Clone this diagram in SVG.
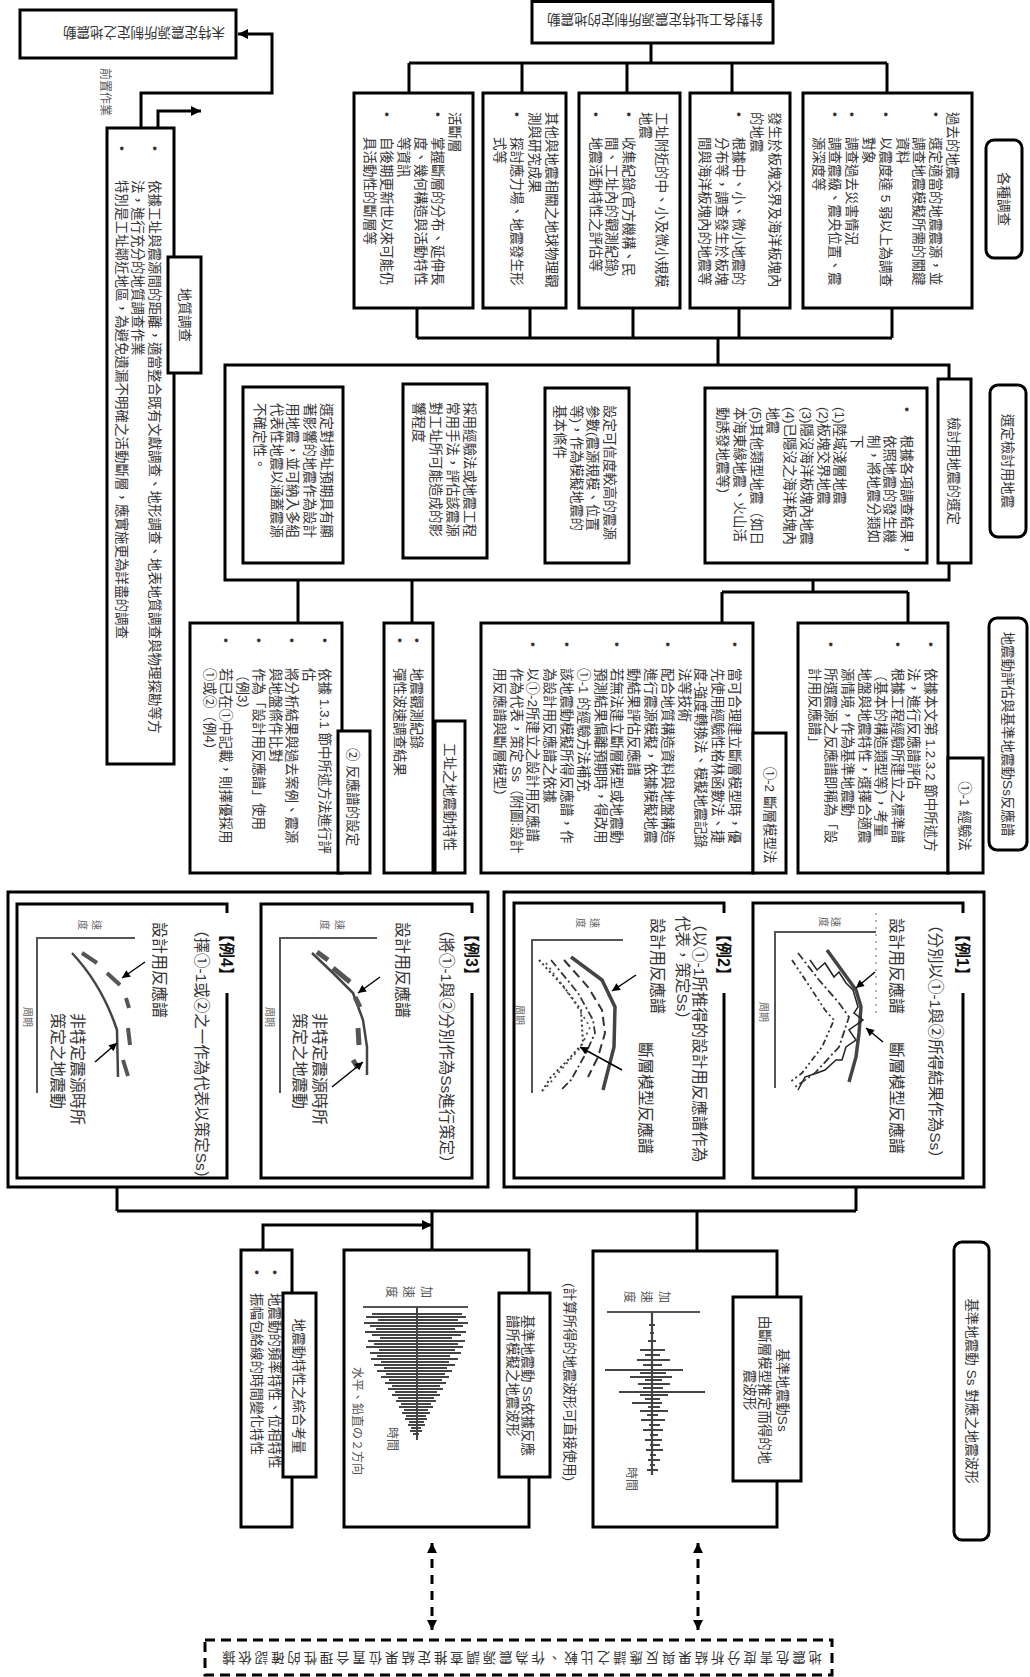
<svg xmlns="http://www.w3.org/2000/svg" width="1030" height="1677" viewBox="0 0 1030 1677">
<style>
.b{fill:#fff;stroke:#000;stroke-width:3}
.r{fill:#fff;stroke:#000;stroke-width:3}
.c{fill:none;stroke:#000;stroke-width:3}
.t{font-family:"Liberation Sans","Noto Sans CJK TC",sans-serif;font-size:13.5px;fill:#333}
.g{font-size:16px}
.h{font-size:15.5px}
.s{font-size:10px;fill:#666}
.w{font-size:12px;fill:#555}
.k{font-weight:bold;font-size:16px;fill:#111}
.cv{fill:none;stroke:#444;stroke-width:2.5}
.ax{fill:none;stroke:#555;stroke-width:2}
.ar{fill:none;stroke:#000;stroke-width:1.5}
</style>
<defs>
<marker id="a" viewBox="0 0 10 10" refX="10" refY="5" markerWidth="12" markerHeight="10" markerUnits="userSpaceOnUse" orient="auto-start-reverse"><path d="M0,0L10,5L0,10z" fill="#000"/></marker>
<marker id="A" viewBox="0 0 10 10" refX="10" refY="5" markerWidth="21" markerHeight="17" markerUnits="userSpaceOnUse" orient="auto"><path d="M0,0L10,5L0,10z" fill="#000"/></marker>
<marker id="m" viewBox="0 0 10 10" refX="10" refY="5" markerWidth="10" markerHeight="8" markerUnits="userSpaceOnUse" orient="auto"><path d="M0,0L10,5L0,10z" fill="#000"/></marker>
</defs>

<g id="connectors">
<path class="c" d="M651,43V63M409,63H887M409,63V93M522,63V93M627,63V93M732,63V93M887,63V93"/>
<path class="c" d="M417,308V338M530,308V338M633,308V338M739,308V338M892,308V338M417,338H892M718,338V365"/>
<path class="c" d="M298,580V623M412,580V623M813,580V592M722,592H908M722,592V623M908,592V623"/>
<path class="c" d="M117,1187V1211M856,1187V1211M117,1211H856M432,1211V1250M697,1211V1251"/>
<path class="c" d="M141,128V93H272V34H238" marker-end="url(#a)"/>
<path class="c" d="M158,128V111H201" marker-end="url(#a)"/>
<path class="c" d="M263,1250V1225H432" marker-end="url(#a)"/>
<path fill="none" stroke="#000" stroke-width="4" d="M688,470H642" marker-end="url(#A)"/>
<path fill="none" stroke="#000" stroke-width="4" d="M537,470H490" marker-end="url(#A)"/>
<path fill="none" stroke="#000" stroke-width="4" d="M392,470H345" marker-end="url(#A)"/>
<path fill="none" stroke="#000" stroke-width="3" stroke-dasharray="9,7" d="M432,1543V1630" marker-start="url(#a)" marker-end="url(#a)"/>
<path fill="none" stroke="#000" stroke-width="3" stroke-dasharray="9,7" d="M698,1543V1630" marker-start="url(#a)" marker-end="url(#a)"/>
</g>

<g id="top">
<rect class="b" x="532" y="1.5" width="241" height="41.5"/>
<text class="t" transform="translate(763,15) rotate(180)">針對各工址特定震源所制定的地震動</text>
</g>
<g id="unspecified">
<rect class="b" x="20" y="10" width="216" height="48"/>
<text class="t" transform="translate(225,28) rotate(180)">未特定震源所制定之地震動</text>
</g>
<g id="pre"><text class="t w" transform="translate(100.5,68) rotate(90)">前置作業</text></g>

<g id="geo">
<rect class="b" x="107" y="128" width="67" height="636"/>
<text class="t" transform="translate(150,146) rotate(90)"><tspan x="0" y="0">•</tspan><tspan x="34" y="0">依據工址與震源間的距離，適當整合既有文獻調查、地形調查、地表地質調查與物理探勘等方</tspan><tspan x="34" y="17">法，進行充分的地質調查作業</tspan><tspan x="0" y="33">•</tspan><tspan x="34" y="33">特別是工址鄰近地區，為避免遺漏不明確之活動斷層，應實施更為詳盡的調查</tspan></text>
<rect class="b" x="168" y="257" width="33" height="116"/>
<text class="t" text-anchor="middle" transform="translate(180,315) rotate(90)">地質調查</text>
</g>

<g id="fault">
<rect class="b" x="354" y="93" width="119" height="215"/>
<text class="t" transform="translate(450,112) rotate(90)"><tspan x="0" y="0">活斷層</tspan><tspan x="0" y="17">•</tspan><tspan x="25" y="17">掌握斷層的分布、延伸長</tspan><tspan x="25" y="34">度、幾何構造與活動特性</tspan><tspan x="25" y="51">等資訊</tspan><tspan x="0" y="68">•</tspan><tspan x="25" y="68">自後期更新世以來可能仍</tspan><tspan x="25" y="85">具活動性的斷層等</tspan></text>
</g>
<g id="geophys">
<rect class="b" x="483" y="93" width="83" height="215"/>
<text class="t" transform="translate(547,112) rotate(90)"><tspan x="0" y="0">其他與地震相關之地球物理觀</tspan><tspan x="0" y="17">測與研究成果</tspan><tspan x="0" y="35">•</tspan><tspan x="25" y="35">探討應力場、地震發生形</tspan><tspan x="25" y="52">式等</tspan></text>
</g>
<g id="small">
<rect class="b" x="579" y="93" width="101" height="215"/>
<text class="t" transform="translate(657,112) rotate(90)"><tspan x="0" y="0">工址附近的中、小及微小規模</tspan><tspan x="0" y="16">地震</tspan><tspan x="0" y="33">•</tspan><tspan x="25" y="33">收集紀錄(官方機構、民</tspan><tspan x="25" y="50">間、工址內的觀測紀錄)</tspan><tspan x="0" y="66">•</tspan><tspan x="25" y="66">地震活動特性之評估等</tspan></text>
</g>
<g id="plate">
<rect class="b" x="690" y="93" width="100" height="215"/>
<text class="t" transform="translate(770,112) rotate(90)"><tspan x="0" y="0">發生於板塊交界及海洋板塊內</tspan><tspan x="0" y="18">的地震</tspan><tspan x="0" y="36">•</tspan><tspan x="25" y="36">根據中、小、微小地震的</tspan><tspan x="25" y="53">分布等，調查發生於板塊</tspan><tspan x="25" y="70">間與海洋板塊內的地震等</tspan></text>
</g>
<g id="past">
<rect class="b" x="803" y="93" width="169" height="215"/>
<text class="t" transform="translate(948,112) rotate(90)"><tspan x="0" y="0">過去的地震</tspan><tspan x="0" y="16.8">•</tspan><tspan x="25" y="16.8">選定適當的地震震源，並</tspan><tspan x="25" y="33.6">調查地震模擬所需的關鍵</tspan><tspan x="25" y="50.4">資料</tspan><tspan x="0" y="67.2">•</tspan><tspan x="25" y="67.2">以震度達 5 弱以上為調查</tspan><tspan x="25" y="84">對象</tspan><tspan x="0" y="100.8">•</tspan><tspan x="25" y="100.8">調查過去災害情況</tspan><tspan x="0" y="117.6">•</tspan><tspan x="25" y="117.6">調查震級、震央位置、震</tspan><tspan x="25" y="134.4">源深度等</tspan></text>
</g>
<g id="lab1">
<rect class="r" x="986" y="140" width="36" height="118" rx="8"/>
<text class="t" text-anchor="middle" transform="translate(999,199) rotate(90)">各種調查</text>
</g>

<g id="select">
<rect class="b" x="225" y="365" width="724" height="215"/>
<rect class="b" x="938" y="379" width="33" height="184"/>
<text class="t" text-anchor="middle" transform="translate(949,471) rotate(90)">檢討用地震的選定</text>
</g>
<g id="s1">
<rect class="b" x="705" y="388" width="222" height="175"/>
<text class="t" transform="translate(902,407) rotate(90)"><tspan x="0" y="0">•</tspan><tspan x="28" y="0">根據各項調查結果，</tspan><tspan x="28" y="16.7">依照地震的發生機</tspan><tspan x="28" y="33.4">制，將地震分類如</tspan><tspan x="28" y="50.1">下</tspan><tspan x="0" y="66.8">(1)陸域淺層地震</tspan><tspan x="0" y="83.5">(2)板塊交界地震</tspan><tspan x="0" y="100.2">(3)隱沒海洋板塊內地震</tspan><tspan x="0" y="116.9">(4)已隱沒之海洋板塊內</tspan><tspan x="0" y="133.6">地震</tspan><tspan x="0" y="150.3">(5)其他類型地震（如日</tspan><tspan x="0" y="167">本海東緣地震、火山活</tspan><tspan x="0" y="183.7">動誘發地震等）</tspan></text>
</g>
<g id="s2">
<rect class="b" x="545" y="388" width="84" height="175"/>
<text class="t" transform="translate(605,405) rotate(90)"><tspan x="0" y="0">設定可信度較高的震源</tspan><tspan x="0" y="17">參數(震源規模、位置</tspan><tspan x="0" y="33">等)，作為模擬地震的</tspan><tspan x="0" y="50">基本條件</tspan></text>
</g>
<g id="s3">
<rect class="b" x="403" y="384" width="84" height="174"/>
<text class="t" transform="translate(465,402) rotate(90)"><tspan x="0" y="0">採用經驗法或地震工程</tspan><tspan x="0" y="17">常用手法，評估該震源</tspan><tspan x="0" y="34">對工址所可能造成的影</tspan><tspan x="0" y="51">響程度</tspan></text>
</g>
<g id="s4">
<rect class="b" x="243" y="387" width="100" height="176"/>
<text class="t" transform="translate(322,403) rotate(90)"><tspan x="0" y="0">選定對場址預期具有顯</tspan><tspan x="0" y="17">著影響的地震作為設計</tspan><tspan x="0" y="34">用地震，並可納入多組</tspan><tspan x="0" y="50">代表性地震以涵蓋震源</tspan><tspan x="0" y="67">不確定性。</tspan></text>
</g>
<g id="lab2">
<rect class="r" x="990" y="385" width="36" height="152" rx="8"/>
<text class="t" text-anchor="middle" transform="translate(1003,461) rotate(90)">選定檢討用地震</text>
</g>

<g id="r1">
<rect class="b" x="190" y="623" width="152" height="250"/>
<text class="t" transform="translate(320,638) rotate(90)"><tspan x="0" y="0">•</tspan><tspan x="30" y="0">依據 1.3.1 節中所述方法進行評</tspan><tspan x="30" y="16.5">估</tspan><tspan x="0" y="33">•</tspan><tspan x="30" y="33">將分析結果與過去案例、震源</tspan><tspan x="30" y="49.5">與地盤條件比對</tspan><tspan x="0" y="66">•</tspan><tspan x="30" y="66">作為「設計用反應譜」使用</tspan><tspan x="30" y="82.5">（例3）</tspan><tspan x="0" y="99">•</tspan><tspan x="30" y="99">若已在①中記載，則擇優採用</tspan><tspan x="30" y="115.5">①或②（例4）</tspan></text>
<rect class="b" x="338" y="731" width="32" height="142"/>
<text class="t" text-anchor="middle" transform="translate(348,797) rotate(90)">② 反應譜的設定</text>
</g>
<g id="r2">
<rect class="b" x="384" y="623" width="49" height="250"/>
<text class="t" transform="translate(412,638) rotate(90)"><tspan x="0" y="0">•</tspan><tspan x="30" y="0">地震觀測紀錄</tspan><tspan x="0" y="17">•</tspan><tspan x="30" y="17">彈性波速調查結果</tspan></text>
<rect class="b" x="435" y="721" width="30" height="152"/>
<text class="t" text-anchor="middle" transform="translate(445,797) rotate(90)">工址之地震動特性</text>
</g>
<g id="r3">
<rect class="b" x="481" y="623" width="272" height="250"/>
<text class="t" transform="translate(730,642) rotate(90)"><tspan x="0" y="0">•</tspan><tspan x="26" y="0">當可合理建立斷層模型時，優</tspan><tspan x="26" y="16.8">先使用經驗性格林函數法、捷</tspan><tspan x="26" y="33.6">度-強度轉換法、模擬地震記錄</tspan><tspan x="26" y="50.4">法等技術</tspan><tspan x="0" y="67.2">•</tspan><tspan x="26" y="67.2">配合地質構造資料與地盤構造</tspan><tspan x="26" y="84">進行震源模擬，依據模擬地震</tspan><tspan x="26" y="100.8">動結果評估反應譜</tspan><tspan x="0" y="117.6">•</tspan><tspan x="26" y="117.6">若無法建立斷層模型或地震動</tspan><tspan x="26" y="134.4">預測結果偏離預期時，得改用</tspan><tspan x="26" y="151.2">①-1 的經驗方法補充</tspan><tspan x="0" y="168">•</tspan><tspan x="26" y="168">該地震動模擬所得反應譜，作</tspan><tspan x="26" y="184.8">為設計用反應譜之依據</tspan><tspan x="0" y="201.6">•</tspan><tspan x="26" y="201.6">以①-2所建立之設計用反應譜</tspan><tspan x="26" y="218.4">作為代表，策定 Ss（附圖:設計</tspan><tspan x="26" y="235.2">用反應譜與斷層模型）</tspan></text>
<rect class="b" x="753" y="733" width="33" height="140"/>
<text class="t" text-anchor="middle" transform="translate(765,815) rotate(90)">①-2 斷層模型法</text>
</g>
<g id="r4">
<rect class="b" x="798" y="623" width="150" height="250"/>
<text class="t" transform="translate(926,642) rotate(90)"><tspan x="0" y="0">•</tspan><tspan x="26" y="0">依據本文第 1.2.3.2 節中所述方</tspan><tspan x="26" y="16.6">法，進行反應譜評估</tspan><tspan x="0" y="33.2">•</tspan><tspan x="26" y="33.2">根據工程經驗所建立之標準譜</tspan><tspan x="26" y="49.8">（基本的構造類型等），考量</tspan><tspan x="26" y="66.4">地盤與地震特性，選擇合適震</tspan><tspan x="26" y="83">源情境，作為基準地震動</tspan><tspan x="0" y="99.6">•</tspan><tspan x="26" y="99.6">所選震源之反應譜即稱為「設</tspan><tspan x="26" y="116.2">計用反應譜」</tspan></text>
<rect class="b" x="948" y="758" width="35" height="115"/>
<text class="t" text-anchor="middle" transform="translate(960,816) rotate(90)">①-1 經驗法</text>
</g>
<g id="lab3">
<rect class="r" x="989" y="618" width="38" height="232" rx="8"/>
<text class="t" text-anchor="middle" transform="translate(1003,734) rotate(90)">地震動評估與基準地震動Ss反應譜</text>
</g>

<g id="exL"><rect class="b" x="8" y="892" width="480" height="295"/></g>
<g id="exR"><rect class="b" x="504" y="892" width="480" height="295"/></g>

<g id="ex4">
<rect class="b" x="17" y="904" width="210" height="274"/>
<rect x="218" y="913" width="18" height="80" fill="#fff"/>
<text class="t k" transform="translate(221,926) rotate(90)">【例4】</text>
<text class="t h" transform="translate(196,922) rotate(90)">（擇①-1或②之一作為代表以策定Ss）</text>
<text class="t g" transform="translate(154,922) rotate(90)">設計用反應譜</text>
<path class="ax" d="M135,938H37V1093"/>
<text class="t s" transform="translate(93,920) rotate(90)">速</text>
<text class="t s" transform="translate(79,920) rotate(90)">度</text>
<text class="t s" transform="translate(24,1007) rotate(90)">周期</text>
<path class="cv" d="M72,953Q102,985 117,1030L118,1077"/>
<path fill="none" stroke="#555" stroke-width="4" d="M82,953L97,963M107,973L120,985M126,998L129,1008M128,1028L130,1045M123,1060L128,1076"/>
<path class="ar" d="M145,962L122,978" marker-end="url(#m)"/>
<path class="ar" d="M95,1062L117,1043" marker-end="url(#m)"/>
<text class="t g" transform="translate(72,1013) rotate(90)"><tspan x="0" y="0">非特定震源時所</tspan><tspan x="0" y="20">策定之地震動</tspan></text>
</g>

<g id="ex3">
<rect class="b" x="261" y="904" width="211" height="274"/>
<rect x="463" y="913" width="18" height="80" fill="#fff"/>
<text class="t k" transform="translate(466,926) rotate(90)">【例3】</text>
<text class="t h" transform="translate(441,922) rotate(90)">（將①-1與②分別作為Ss進行策定）</text>
<text class="t g" transform="translate(397,922) rotate(90)">設計用反應譜</text>
<path class="ax" d="M377,938H280V1093"/>
<text class="t s" transform="translate(336,920) rotate(90)">速</text>
<text class="t s" transform="translate(321,920) rotate(90)">度</text>
<text class="t s" transform="translate(266,1007) rotate(90)">周期</text>
<path class="cv" d="M312,953L333,973L353,993L363,1020L367,1047L367,1075"/>
<path fill="none" stroke="#555" stroke-width="5" d="M317,952L328,960M333,968L350,982M355,997L360,1007M358,1028L359,1045M353,1060L358,1068"/>
<path class="ar" d="M380,977L358,993" marker-end="url(#m)"/>
<path class="ar" d="M332,1087L363,1062" marker-end="url(#m)"/>
<text class="t g" transform="translate(314,1013) rotate(90)"><tspan x="0" y="0">非特定震源時所</tspan><tspan x="0" y="20">策定之地震動</tspan></text>
</g>

<g id="ex2">
<rect class="b" x="514" y="903" width="210" height="275"/>
<rect x="715" y="913" width="18" height="80" fill="#fff"/>
<text class="t k" transform="translate(718,926) rotate(90)">【例2】</text>
<text class="t h" transform="translate(694,916) rotate(90)"><tspan x="0" y="0">（以①-1所推得的設計用反應譜作為</tspan><tspan x="0" y="17">代表，策定Ss）</tspan></text>
<text class="t g" transform="translate(652,918) rotate(90)">設計用反應譜</text>
<text class="t g" transform="translate(640,1042) rotate(90)">斷層模型反應譜</text>
<path class="ax" d="M623,940H532V1093"/>
<text class="t s" transform="translate(591,918) rotate(90)">速</text>
<text class="t s" transform="translate(577,918) rotate(90)">度</text>
<text class="t s" transform="translate(516,1005) rotate(90)">周期</text>
<path fill="none" stroke="#444" stroke-width="3.5" d="M571,957L602,980L615,1007L614,1047L603,1090"/>
<path fill="none" stroke="#333" stroke-width="2" stroke-dasharray="9,5" d="M564,960L588,987L602,1010L605,1033L598,1057L588,1077"/>
<path fill="none" stroke="#333" stroke-width="1.8" stroke-dasharray="8,3,2,3" d="M551,960L578,993L593,1020L595,1033L586,1053L571,1080L561,1090"/>
<path fill="none" stroke="#333" stroke-width="2" stroke-dasharray="2,3" d="M539,960L564,987L581,1010L583,1043L568,1060L551,1077L541,1093"/>
<path fill="none" stroke="#555" stroke-width="1.8" stroke-dasharray="2,4" d="M546,963L573,1000L590,1027L581,1047L561,1070L544,1090"/>
<path class="ar" d="M636,975L612,991" marker-end="url(#m)"/>
<path class="ar" d="M622,1070L580,1047" marker-end="url(#m)"/>
</g>

<g id="ex1">
<rect class="b" x="753" y="903" width="210" height="275"/>
<rect x="954" y="913" width="18" height="80" fill="#fff"/>
<text class="t k" transform="translate(957,926) rotate(90)">【例1】</text>
<text class="t h" transform="translate(930,917) rotate(90)">（分別以①-1與②所得結果作為Ss）</text>
<text class="t g" transform="translate(891,918) rotate(90)">設計用反應譜</text>
<text class="t g" transform="translate(891,1042) rotate(90)">斷層模型反應譜</text>
<path class="ax" d="M876,932H775V1088"/>
<path fill="none" stroke="#999" stroke-width="1.5" stroke-dasharray="2,5" d="M876,913V1017"/>
<text class="t s" transform="translate(832,917) rotate(90)">速</text>
<text class="t s" transform="translate(820,917) rotate(90)">度</text>
<text class="t s" transform="translate(760,1002) rotate(90)">周期</text>
<path fill="none" stroke="#444" stroke-width="3.5" d="M827,950L856,990L861,1007L859,1033L856,1057L849,1082"/>
<path fill="none" stroke="#222" stroke-width="1.5" d="M810,960L817,970L825,963L834,977L839,972L846,983L853,990L858,1007L854,1013L863,1020L849,1030L856,1040L846,1047L842,1060L836,1060L825,1070L817,1073L805,1077L798,1090"/>
<path fill="none" stroke="#333" stroke-width="1.8" stroke-dasharray="8,3,2,3" d="M798,953L819,980L839,1003L849,1017L839,1047L815,1073L795,1087"/>
<path fill="none" stroke="#333" stroke-width="1.8" stroke-dasharray="6,3,2,3,2,3" d="M792,960L812,990L825,1010L834,1020L822,1047L802,1073L790,1082"/>
<path class="ar" d="M875,972L856,988" marker-end="url(#m)"/>
<path class="ar" d="M883,1042L866,1028" marker-end="url(#m)"/>
</g>

<g id="synth">
<rect class="b" x="241" y="1250" width="51" height="277"/>
<text class="t" transform="translate(270,1270) rotate(90)"><tspan x="0" y="0">•</tspan><tspan x="23" y="0">地震動的頻率特性、位相特性</tspan><tspan x="0" y="18">•</tspan><tspan x="23" y="18">振幅包絡線的時間變化特性</tspan></text>
<rect class="b" x="283" y="1293" width="33" height="184"/>
<text class="t" text-anchor="middle" transform="translate(294,1386) rotate(90)">地震動特性之綜合考量</text>
</g>

<g id="wave2">
<rect class="b" x="344" y="1250" width="185" height="277"/>
<path class="ax" d="M363,1307H468"/>
<path fill="none" stroke="#444" stroke-width="2" d="M417,1307V1440M372,1314H462M366,1317H466M378,1320H458M364,1323H468M370,1326H463M376,1329H455M365,1332H466M372,1335H461M380,1338H452M368,1341H465M374,1344H458M366,1347H463M379,1350H455M370,1353H461M377,1356H450M371,1359H458M381,1362H449M374,1365H455M384,1368H447M377,1371H452M386,1374H445M381,1377H449M389,1380H442M385,1383H446M392,1386H440M388,1389H443M395,1392H437M392,1395H440M398,1398H434M396,1401H436M401,1404H431M399,1407H433M404,1410H428M402,1413H430M406,1416H426M405,1419H427M409,1422H424M408,1425H425M411,1428H421M410,1431H422M413,1434H419"/>
<text class="t w" transform="translate(422,1286) rotate(90)">加</text>
<text class="t w" transform="translate(404,1286) rotate(90)">速</text>
<text class="t w" transform="translate(387,1286) rotate(90)">度</text>
<text class="t w" transform="translate(388,1427) rotate(90)">時間</text>
<text class="t w" transform="translate(353,1367) rotate(90)">水平、鉛直の２方向</text>
<rect class="b" x="499" y="1293" width="51" height="184"/>
<text class="t" transform="translate(523,1315) rotate(90)"><tspan x="0" y="0">基準地震動 Ss依據反應</tspan><tspan x="0" y="15">譜所模擬之地震波形</tspan></text>
</g>

<g id="note"><text class="t" transform="translate(565,1283) rotate(90)">(計算所得的地震波形可直接使用)</text></g>

<g id="wave1">
<rect class="b" x="593" y="1251" width="184" height="276"/>
<path class="ax" d="M607,1312H700"/>
<path fill="none" stroke="#444" stroke-width="2.2" d="M652,1312V1475M649,1325H655M650,1333H654M648,1341H656M640,1350H665M645,1355H660M637,1360H670M643,1365H662M605,1370H683M640,1373H666M630,1377H672M645,1380H662M638,1384H670M643,1388H663M619,1392H705M640,1395H668M645,1399H660M632,1403H662M648,1407H660M640,1411H668M647,1415H658M641,1420H665M649,1425H660M643,1430H663M650,1435H658M645,1440H662M650,1445H660M646,1450H663M650,1455H656M648,1460H660M650,1465H655M647,1470H658"/>
<text class="t w" transform="translate(660,1291) rotate(90)">加</text>
<text class="t w" transform="translate(642,1291) rotate(90)">速</text>
<text class="t w" transform="translate(625,1291) rotate(90)">度</text>
<text class="t w" transform="translate(627,1467) rotate(90)">時間</text>
<rect class="b" x="733" y="1297" width="68" height="184"/>
<text class="t" text-anchor="middle" transform="translate(778,1390) rotate(90)"><tspan x="0" y="0">基準地震動Ss</tspan><tspan x="0" y="18">由斷層模型推定而得的地</tspan><tspan x="0" y="33">震波形</tspan></text>
</g>

<g id="lab4">
<rect class="r" x="954" y="1242" width="35" height="298" rx="8"/>
<text class="t" text-anchor="middle" transform="translate(967,1391) rotate(90)">基準地震動 Ss 對應之地震波形</text>
</g>

<g id="hazard">
<rect x="205" y="1640" width="627" height="35" fill="#fff" stroke="#000" stroke-width="3" stroke-dasharray="10,6"/>
<text class="t" transform="translate(822,1653) rotate(180)" textLength="600" lengthAdjust="spacing">地震危害度分析結果與反應譜之比較、作為震源調查推定結果位置合理性的確認依據</text>
</g>
</svg>
